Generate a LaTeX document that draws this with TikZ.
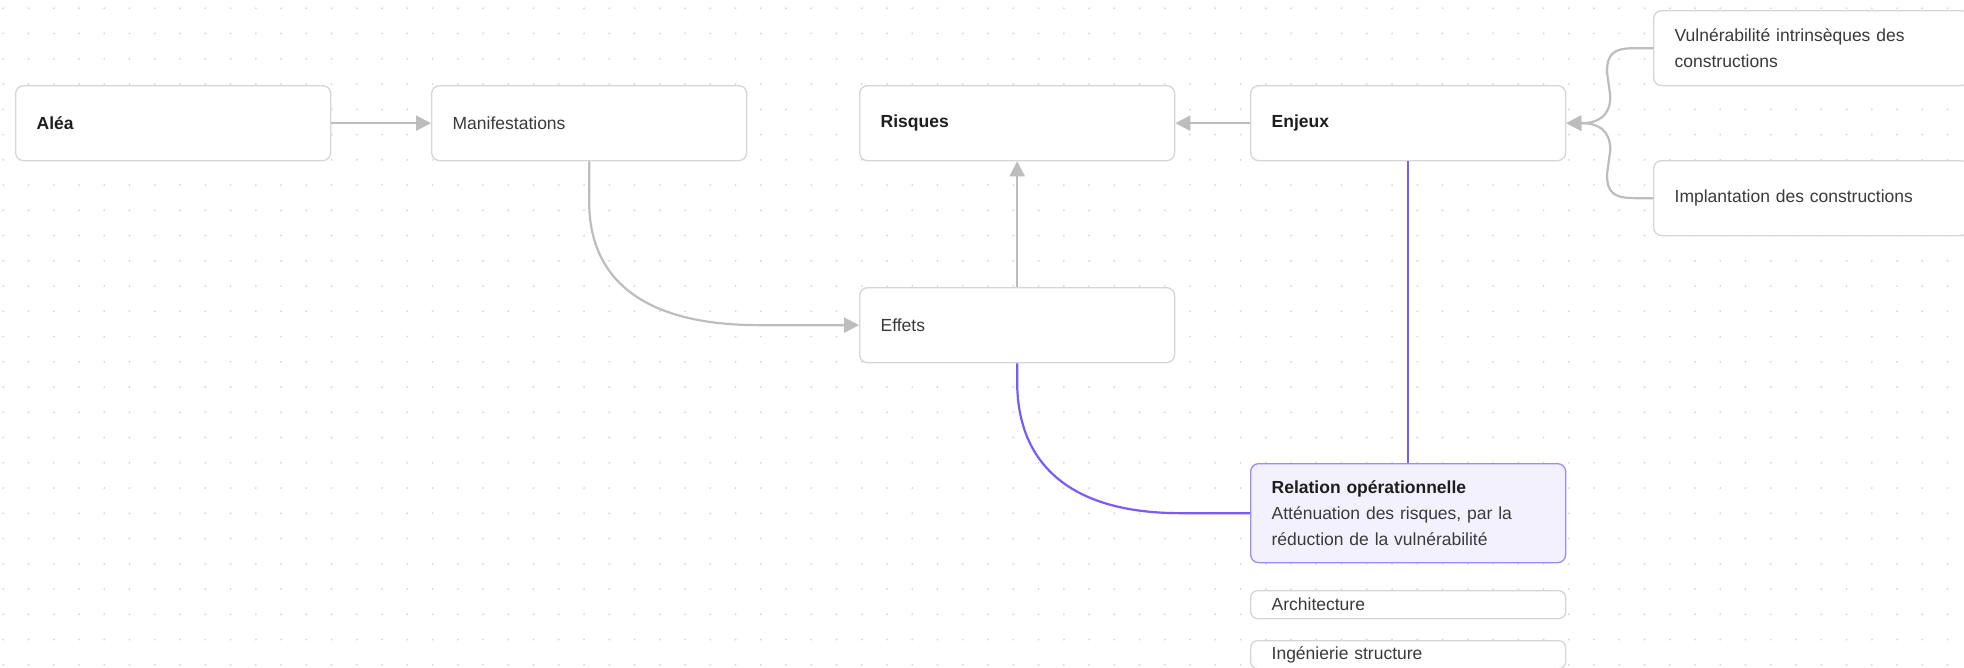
\documentclass[tikz,border=0pt]{standalone}
\usepackage{fontspec}
\setmainfont{Liberation Sans}
\usetikzlibrary{arrows.meta,calc}
\definecolor{boxgray}{HTML}{D6D6D6}
\definecolor{arrgray}{HTML}{BDBDBD}
\definecolor{purpline}{HTML}{7A5AF8}
\definecolor{purpborder}{HTML}{A28AF5}
\definecolor{purpfill}{HTML}{F4F1FF}
\definecolor{txt}{HTML}{3A3A3A}
\definecolor{txtb}{HTML}{1E1E1E}
\definecolor{dotc}{HTML}{D9D9D9}
\newcommand\fsz{\fontsize{17.5}{26}\selectfont}
\newcommand\bt[1]{{\bfseries\color{txtb}#1}}
\begin{document}
\begin{tikzpicture}[x=1pt,y=-1pt,
  box/.style={draw=boxgray, line width=1.3pt, fill=white, rounded corners=8pt,
    minimum width=315pt, minimum height=75pt, text width=273pt, inner xsep=21pt,
    inner ysep=0pt, align=left, anchor=north west, font=\fsz, text=txt},
  smallbox/.style={box, minimum height=28pt, rounded corners=7pt},
  relbox/.style={box, draw=purpborder, fill=purpfill, minimum height=99pt},
  gline/.style={draw=arrgray, line width=2.2pt, -{Triangle[length=15pt,width=15pt]}},
  pline/.style={draw=purpline, line width=2.2pt}
]
\useasboundingbox (0,0) rectangle (1964,667);
\clip (0,0) rectangle (1964,667);
\fill[white] (0,0) rectangle (1964,667);
\foreach \i in {0,...,77}{
  \foreach \j in {0,...,26}{
    \fill[dotc] ({3.3+25.25*\i},{8.3+25.25*\j}) circle (1.1pt);
  }
}
% nodes
\node[box] (alea) at (15,85) {\bt{Aléa}};
\node[box] (manif) at (431,85) {Manifestations};
\node[box] (risques) at (859,85) {\bt{Risques}};
\node[box] (enjeux) at (1250,85) {\bt{Enjeux}};
\node[box] (vuln) at (1653,10) {Vulnérabilité intrinsèques des\\constructions};
\node[box] (impl) at (1653,160) {Implantation des constructions};
\node[box] (effets) at (859,287) {Effets};
\node[relbox] (relation) at (1250,463) {\bt{Relation opérationnelle}\\Atténuation des risques, par la\\réduction de la vulnérabilité};
\node[smallbox] (archi) at (1250,590) {Architecture};
\node[smallbox] (ingen) at (1250,640) {Ingénierie structure};
% connectors
\draw[gline] (alea.east) -- (manif.west);
\draw[gline] (enjeux.west) -- (risques.east);
\draw[gline] (effets.north) -- (risques.south);
\draw[gline] (manif.south) -- ($(manif.south)+(0,40)$)
  .. controls ($(manif.south)+(0,121)$) and ($(effets.west)+(-212,0)$) .. ($(effets.west)+(-100,0)$)
  -- (effets.west);
\draw[gline] (vuln.west) -- ($(vuln.west)+(-18,0)$)
  .. controls ($(vuln.west)+(-40,0)$) and ($(vuln.west)+(-46,6)$) .. ($(vuln.west)+(-46,24)$)
  -- ($(enjeux.east)+(44,-27)$)
  .. controls ($(enjeux.east)+(44,-7)$) and ($(enjeux.east)+(32,0)$) .. ($(enjeux.east)+(15,0)$)
  -- (enjeux.east);
\draw[gline] (impl.west) -- ($(impl.west)+(-18,0)$)
  .. controls ($(impl.west)+(-40,0)$) and ($(impl.west)+(-46,-6)$) .. ($(impl.west)+(-46,-24)$)
  -- ($(enjeux.east)+(44,27)$)
  .. controls ($(enjeux.east)+(44,7)$) and ($(enjeux.east)+(32,0)$) .. ($(enjeux.east)+(15,0)$)
  -- (enjeux.east);
\draw[pline] (effets.south) -- ($(effets.south)+(0,18)$)
  .. controls ($(effets.south)+(0,104)$) and ($(relation.west)+(-176,0)$) .. ($(relation.west)+(-70,0)$)
  -- (relation.west);
\draw[pline] (enjeux.south) -- (relation.north);
\end{tikzpicture}
\end{document}
